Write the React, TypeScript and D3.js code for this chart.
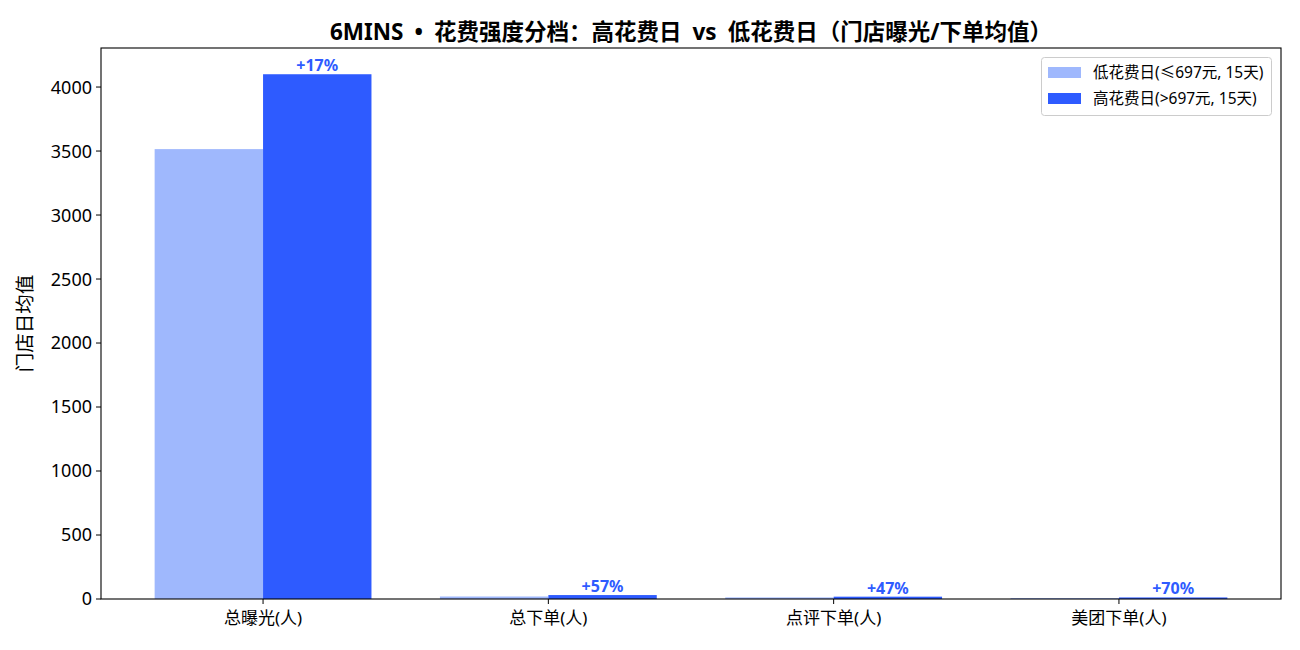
import React from "react";
import * as d3 from "d3";

const categories = ["总曝光(人)", "总下单(人)", "点评下单(人)", "美团下单(人)"];
const lowValues = [3515, 19.6, 12.4, 7.2];
const highValues = [4100, 30.8, 18.2, 12.2];
const pctLabels = ["+17%", "+57%", "+47%", "+70%"];
const yTicks = [0, 500, 1000, 1500, 2000, 2500, 3000, 3500, 4000];
const seriesNames = ["低花费日(≤697元, 15天)", "高花费日(>697元, 15天)"];
const colors = ["#9fb8fd", "#2e5bff"];

const W = 1300;
const H = 650;
const M = { left: 101, right: 1281, top: 48, bottom: 599 };
const FONT = "'Noto Sans', 'Noto Sans CJK SC', sans-serif";

export default function App() {
  const barW = 0.38;
  const x = d3.scaleLinear().domain([-0.568, 3.568]).range([M.left, M.right]);
  const yMax = d3.max(highValues)! * 1.05;
  const y = d3.scaleLinear().domain([0, yMax]).range([M.bottom, M.top]);

  return (
    <svg width={W} height={H} style={{ position: "absolute", left: 0, top: 0, fontFamily: FONT }}>
      <rect x={0} y={0} width={W} height={H} fill="#fff" />
      {categories.map((c, i) => {
        const lx = x(i - barW);
        const hx = x(i);
        const bw = x(barW) - x(0);
        return (
          <g key={c}>
            <rect x={lx} y={y(lowValues[i])} width={bw} height={y(0) - y(lowValues[i])} fill={colors[0]} />
            <rect x={hx} y={y(highValues[i])} width={bw} height={y(0) - y(highValues[i])} fill={colors[1]} />
            <text x={x(i + barW / 2)} y={y(highValues[i]) - 3} textAnchor="middle" fontSize={16} fontWeight="bold" fill={colors[1]}>
              {pctLabels[i]}
            </text>
          </g>
        );
      })}
      <rect x={M.left} y={M.top} width={M.right - M.left} height={M.bottom - M.top} fill="none" stroke="#000" strokeWidth={1.1} />
      {yTicks.map((t) => (
        <g key={t}>
          <line x1={M.left - 5} x2={M.left} y1={y(t)} y2={y(t)} stroke="#000" strokeWidth={1} />
          <text x={M.left - 9} y={y(t)} dy="0.36em" textAnchor="end" fontSize={18} fill="#000">
            {t}
          </text>
        </g>
      ))}
      {categories.map((c, i) => (
        <g key={"xt" + i}>
          <line x1={x(i)} x2={x(i)} y1={M.bottom} y2={M.bottom + 5} stroke="#000" strokeWidth={1} />
          <text x={x(i)} y={M.bottom + 25} textAnchor="middle" fontSize={17} fill="#000">
            {c}
          </text>
        </g>
      ))}
      <text transform={`translate(32, ${(M.top + M.bottom) / 2}) rotate(-90)`} textAnchor="middle" fontSize={19.5} fill="#000">
        门店日均值
      </text>
      <text x={(M.left + M.right) / 2} y={40} textAnchor="middle" fontSize={22.5} fontWeight="bold" fill="#000">
        <tspan>6MINS</tspan>
        <tspan dx={11}>•</tspan>
        <tspan dx={11}>花费强度分档：高花费日</tspan>
        <tspan dx={11}>vs</tspan>
        <tspan dx={11}>低花费日（门店曝光/下单均值）</tspan>
      </text>
      <g>
        <rect x={1041.5} y={57.5} width={230} height={58} rx={3} fill="#fff" stroke="#ccc" strokeWidth={1} />
        {seriesNames.map((s, i) => (
          <g key={s}>
            <rect x={1048} y={67 + i * 26} width={33} height={11} fill={colors[i]} />
            <text x={1093} y={72.5 + i * 26} dy="0.36em" fontSize={15.5} fill="#000">
              {s}
            </text>
          </g>
        ))}
      </g>
    </svg>
  );
}
